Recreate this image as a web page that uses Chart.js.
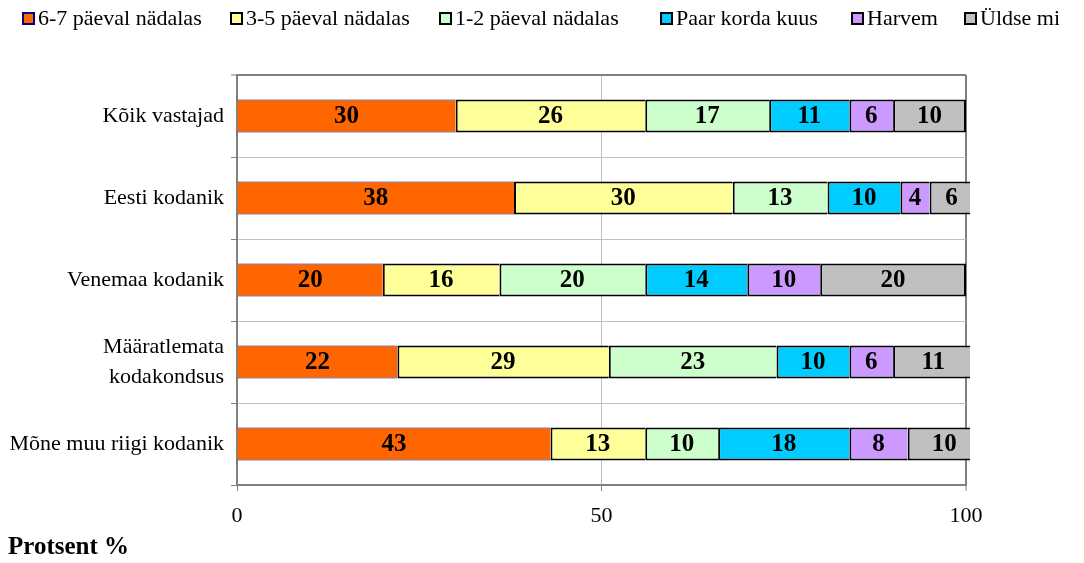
<!DOCTYPE html>
<html>
<head>
<meta charset="utf-8">
<script src="https://cdn.jsdelivr.net/npm/chart.js@4.4.0/dist/chart.umd.min.js"></script>
<style>
  html, body { margin: 0; padding: 0; background: #fff; overflow: hidden; }
  #wrap { position: relative; width: 1084px; height: 563px; }
  #myChart { position: absolute; left: 0; top: 0; }
  #legend {
    position: absolute; left: 0; top: 5px; width: 1059px; height: 28px;
    overflow: hidden; white-space: nowrap;
    font: 22px "Liberation Serif", "Times New Roman", serif; line-height: 26px; color: #000;
  }
  #legend .item { position: absolute; top: 0; display: flex; align-items: center; }
  #legend .box { width: 13px; height: 13px; box-sizing: border-box; border: 2px solid #000; margin-right: 3px; }
</style>
</head>
<body>
<div id="wrap">
  <canvas id="myChart" width="1084" height="563"></canvas>
  <div id="legend"></div>
</div>
<script>
const categories = ['Kõik vastajad', 'Eesti kodanik', 'Venemaa kodanik', ['Määratlemata', 'kodakondsus'], 'Mõne muu riigi kodanik'];
const seriesNames = ['6-7 päeval nädalas', '3-5 päeval nädalas', '1-2 päeval nädalas', 'Paar korda kuus', 'Harvem', 'Üldse mitte'];
const daily = [30, 38, 20, 22, 43];
const often = [26, 30, 16, 29, 13];
const weekly = [17, 13, 20, 23, 10];
const monthly = [11, 10, 14, 10, 18];
const rarely = [6, 4, 10, 6, 8];
const never = [10, 6, 20, 11, 10];
const xTicks = [0, 50, 100];

const fills = ['#FF6600', '#FFFF99', '#CCFFCC', '#00CCFF', '#CC99FF', '#C0C0C0'];
const edges = ['#000080', '#000000', '#000000', '#000000', '#000000', '#000000'];
const legendLeft = [22, 230, 439, 660, 851, 964];
const font = '"Liberation Serif", "Times New Roman", serif';

Chart.defaults.font.family = font;
Chart.defaults.color = '#000';

const ctx = document.getElementById('myChart').getContext('2d');

// numbers in the middle of every segment
const barLabels = {
    id: 'barLabels',
    afterDatasetsDraw(chart) {
        const c = chart.ctx;
        c.save();
        c.font = 'bold 25px ' + font;
        c.fillStyle = '#000';
        c.textAlign = 'center';
        c.textBaseline = 'middle';
        chart.data.datasets.forEach((ds, i) => {
            chart.getDatasetMeta(i).data.forEach((bar, j) => {
                const p = bar.getCenterPoint();
                c.fillText(ds.data[j], p.x, p.y + 1);
            });
        });
        c.restore();
    }
};

const values = [daily, often, weekly, monthly, rarely, never];
const datasets = values.map((data, i) => ({
    label: seriesNames[i],
    data: data,
    backgroundColor: fills[i],
    borderColor: edges[i],
    borderWidth: i === 0 ? {top: 1, bottom: 1, left: 0, right: 0}
        : {top: 2, bottom: 2, left: 2, right: i === values.length - 1 ? 2 : 0},
    borderSkipped: false,
    barPercentage: 0.4,
    categoryPercentage: 1,
    clip: {left: 0, top: 0, right: 4, bottom: 0}
}));

const myChart = new Chart(ctx, {
    type: 'bar',
    data: {
        labels: categories,
        datasets: datasets
    },
    options: {
        indexAxis: 'y',
        responsive: false,
        animation: false,
        layout: {
            padding: {left: 8, right: 118, top: 75, bottom: 0}
        },
        scales: {
            x: {
                stacked: true,
                min: 0,
                max: 100,
                afterBuildTicks: s => { s.ticks = xTicks.map(v => ({value: v})); },
                afterFit: s => { s.height = 48; },
                grid: {
                    color: c => c.tick && c.tick.value === 50 ? '#c0c0c0' : '#808080',
                    lineWidth: c => c.tick && c.tick.value === 100 ? 2 : 1,
                    tickColor: '#808080',
                    tickWidth: 1,
                    tickLength: 6
                },
                border: {color: '#808080', width: 2},
                ticks: {color: '#000', font: {size: 22}, padding: 12, maxRotation: 0}
            },
            y: {
                stacked: true,
                afterFit: s => { s.width = 229; },
                grid: {
                    offset: true,
                    color: c => c.index === 0 ? '#808080' : '#c0c0c0',
                    lineWidth: c => c.index === 0 ? 2 : 1,
                    tickColor: '#808080',
                    tickWidth: 1,
                    tickLength: 6
                },
                border: {color: '#808080', width: 2},
                ticks: {color: '#000', font: {size: 22, lineHeight: 1.36}, padding: 7}
            }
        },
        plugins: {
            legend: {display: false},
            tooltip: {enabled: false},
            title: {
                display: true,
                text: 'Protsent %',
                position: 'bottom',
                align: 'start',
                color: '#000',
                font: {size: 25, weight: 'bold', lineHeight: 1.2},
                padding: {top: 0, bottom: 0}
            }
        }
    },
    plugins: [barLabels]
});

// legend row built from the datasets
const legend = document.getElementById('legend');
myChart.data.datasets.forEach((ds, i) => {
    const item = document.createElement('span');
    item.className = 'item';
    item.style.left = legendLeft[i] + 'px';
    const box = document.createElement('span');
    box.className = 'box';
    box.style.background = ds.backgroundColor;
    box.style.borderColor = ds.borderColor;
    item.appendChild(box);
    item.appendChild(document.createTextNode(ds.label));
    legend.appendChild(item);
});
</script>
</body>
</html>
